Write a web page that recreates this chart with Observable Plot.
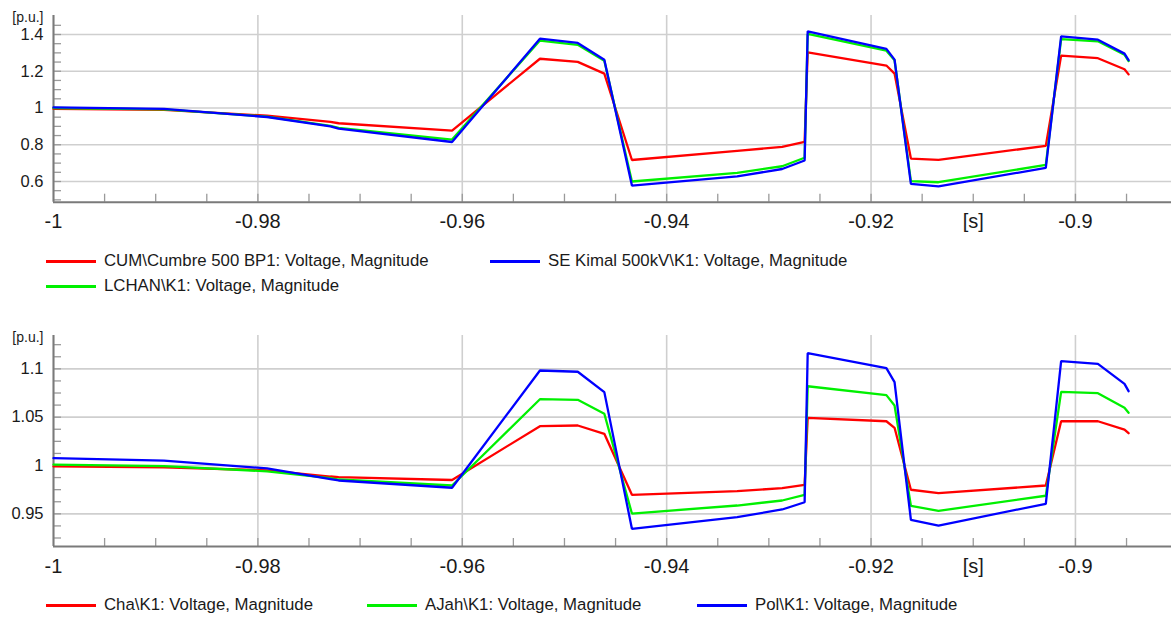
<!DOCTYPE html>
<html>
<head>
<meta charset="utf-8">
<script src="https://cdn.jsdelivr.net/npm/d3@7"></script>
<script src="https://cdn.jsdelivr.net/npm/@observablehq/plot@0.6"></script>
<style>
  html, body { margin: 0; padding: 0; background: #fff; }
  body { width: 1171px; height: 617px; position: relative; overflow: hidden;
         font-family: "Liberation Sans", Arial, sans-serif; color: #1a1a1a; }
  .panel { position: absolute; left: 0; }
  .legend { position: absolute; left: 0; width: 1171px; font-size: 16.8px; }
  .item { position: absolute; display: flex; align-items: center; white-space: nowrap; }
  .swatch { width: 50px; height: 3px; margin-right: 8px; }
</style>
</head>
<body>
<div id="top" class="panel" style="top:0px"></div>
<div id="legendTop" class="legend"></div>
<div id="bottom" class="panel" style="top:320px"></div>
<div id="legendBottom" class="legend"></div>
<script>
// Simulation time stamps [s] shared by both panels
const time = [-1, -0.9892, -0.9791, -0.9729, -0.9721, -0.9610, -0.9524, -0.9487, -0.9461,
  -0.9434, -0.9331, -0.9287, -0.9265, -0.9262, -0.9185, -0.9177, -0.9161, -0.9134,
  -0.9029, -0.9014, -0.8978, -0.8952, -0.8948];

// Upper panel: bus voltages [p.u.]
const cumbre = [0.995, 0.990, 0.958, 0.925, 0.917, 0.877, 1.268, 1.251, 1.187,
  0.717, 0.767, 0.788, 0.815, 1.303, 1.231, 1.187, 0.725, 0.718,
  0.794, 1.285, 1.271, 1.211, 1.183];
const kimal = [1.003, 0.995, 0.951, 0.900, 0.888, 0.815, 1.377, 1.354, 1.263,
  0.578, 0.628, 0.668, 0.714, 1.417, 1.322, 1.263, 0.587, 0.573,
  0.674, 1.390, 1.372, 1.296, 1.260];
const lchan = [1.000, 0.993, 0.953, 0.903, 0.892, 0.828, 1.367, 1.344, 1.257,
  0.600, 0.647, 0.683, 0.729, 1.403, 1.312, 1.260, 0.602, 0.596,
  0.690, 1.375, 1.363, 1.290, 1.255];

// Lower panel: bus voltages [p.u.]
const cha = [0.999, 0.998, 0.995, 0.9886, 0.988, 0.985, 1.0407, 1.0414, 1.0328,
  0.9697, 0.9734, 0.9766, 0.980, 1.0493, 1.0458, 1.039, 0.9749, 0.9714,
  0.9793, 1.0458, 1.0458, 1.0372, 1.0334];
const ajah = [1.001, 0.9993, 0.994, 0.987, 0.9855, 0.9793, 1.0686, 1.068, 1.0535,
  0.9503, 0.9586, 0.9638, 0.9697, 1.082, 1.0728, 1.062, 0.9583, 0.9531,
  0.9687, 1.0762, 1.0748, 1.0597, 1.0545];
const pol = [1.0076, 1.005, 0.997, 0.986, 0.9845, 0.977, 1.0983, 1.097, 1.0759,
  0.9345, 0.9465, 0.9545, 0.962, 1.1162, 1.1007, 1.0862, 0.9438, 0.9379,
  0.9604, 1.1079, 1.1052, 1.0845, 1.0769];

// Axis ticks
const xTicks = [-1, -0.98, -0.96, -0.94, -0.92, -0.9];
const xMinor = d3.range(-0.995, -0.89, 0.005).map(v => +v.toFixed(3));
const yTicksTop = [0.6, 0.8, 1, 1.2, 1.4];
const yMinorTop = d3.range(0.5, 1.5, 0.05).map(v => +v.toFixed(2));
const yTicksBottom = [0.95, 1, 1.05, 1.1];
const yMinorBottom = d3.range(0.925, 1.13, 0.0125).map(v => +v.toFixed(4));

const seriesTop = [
  {name: "CUM\\Cumbre 500 BP1: Voltage, Magnitude", values: cumbre, color: "#ff0000"},
  {name: "LCHAN\\K1: Voltage, Magnitude", values: lchan, color: "#00f000"},
  {name: "SE Kimal 500kV\\K1: Voltage, Magnitude", values: kimal, color: "#0000ff"}
];
const seriesBottom = [
  {name: "Cha\\K1: Voltage, Magnitude", values: cha, color: "#ff0000"},
  {name: "AJah\\K1: Voltage, Magnitude", values: ajah, color: "#00f000"},
  {name: "Pol\\K1: Voltage, Magnitude", values: pol, color: "#0000ff"}
];

const W = 1171;
const fmt = d => String(d);

function panel({series, yDomain, yTicks, yMinor, height, marginTop, marginBottom}) {
  const marginLeft = 53, marginRight = 0;
  const plotW = W - marginLeft - marginRight;
  const plotH = height - marginTop - marginBottom;
  const xDomain = [-1, -0.8906];
  const rows = series.flatMap(s => time.map((t, i) => ({t, v: s.values[i], name: s.name})));
  return Plot.plot({
    width: W, height, marginLeft, marginRight, marginTop, marginBottom,
    style: {fontFamily: '"Liberation Sans", Arial, sans-serif', color: "#1a1a1a", background: "#fff", overflow: "visible"},
    x: {domain: xDomain, axis: null},
    y: {domain: yDomain, axis: null},
    color: {domain: series.map(s => s.name), range: series.map(s => s.color)},
    marks: [
      Plot.ruleX(xTicks, {stroke: "#cfcfcf", strokeWidth: 1.6}),
      Plot.ruleY(yTicks, {stroke: "#cfcfcf", strokeWidth: 1.6}),
      Plot.ruleX(xMinor, {stroke: "#9a9a9a", strokeWidth: 1.3, insetTop: plotH - 8}),
      Plot.ruleY(yMinor.filter(v => v > yDomain[0] && v < yDomain[1]), {stroke: "#9a9a9a", strokeWidth: 1.3, insetRight: plotW - 8}),
      Plot.ruleX([xDomain[0]], {stroke: "#7a7a7a", strokeWidth: 2}),
      Plot.ruleY([yDomain[0]], {stroke: "#7a7a7a", strokeWidth: 2}),
      Plot.line(rows, {x: "t", y: "v", z: "name", stroke: "name", strokeWidth: 2.3, strokeLinejoin: "miter"}),
      Plot.axisX(xTicks, {tickSize: 0, tickPadding: 12, fontSize: 20, tickFormat: fmt, label: null}),
      Plot.axisY(yTicks, {tickSize: 0, tickPadding: 10, fontSize: 16.5, tickFormat: fmt, label: null}),
      Plot.text(["[s]"], {x: [-0.91], frameAnchor: "bottom", lineAnchor: "top", dy: 12, fontSize: 20, fill: "#1a1a1a"}),
      Plot.text(["[p.u.]"], {frameAnchor: "top-left", textAnchor: "end", lineAnchor: "middle", dx: -10, dy: 2, fontSize: 14, fill: "#1a1a1a"})
    ]
  });
}

document.getElementById("top").append(panel({
  series: seriesTop, yDomain: [0.4873, 1.5034], yTicks: yTicksTop, yMinor: yMinorTop,
  height: 250, marginTop: 15, marginBottom: 48.3
}));
document.getElementById("bottom").append(panel({
  series: seriesBottom, yDomain: [0.9162, 1.1345], yTicks: yTicksBottom, yMinor: yMinorBottom,
  height: 260, marginTop: 15, marginBottom: 34
}));

function legend(el, items) {
  for (const it of items) {
    const d = document.createElement("div");
    d.className = "item";
    d.style.left = it.left + "px";
    d.style.top = it.top + "px";
    const sw = document.createElement("span");
    sw.className = "swatch";
    sw.style.background = it.color;
    const tx = document.createElement("span");
    tx.textContent = it.name;
    d.append(sw, tx);
    el.append(d);
  }
}
legend(document.getElementById("legendTop"), [
  {...seriesTop[0], left: 46, top: 251},
  {...seriesTop[2], left: 490, top: 251},
  {...seriesTop[1], left: 46, top: 276}
]);
legend(document.getElementById("legendBottom"), [
  {...seriesBottom[0], left: 46, top: 595},
  {...seriesBottom[1], left: 367, top: 595},
  {...seriesBottom[2], left: 697, top: 595}
]);
</script>
</body>
</html>
